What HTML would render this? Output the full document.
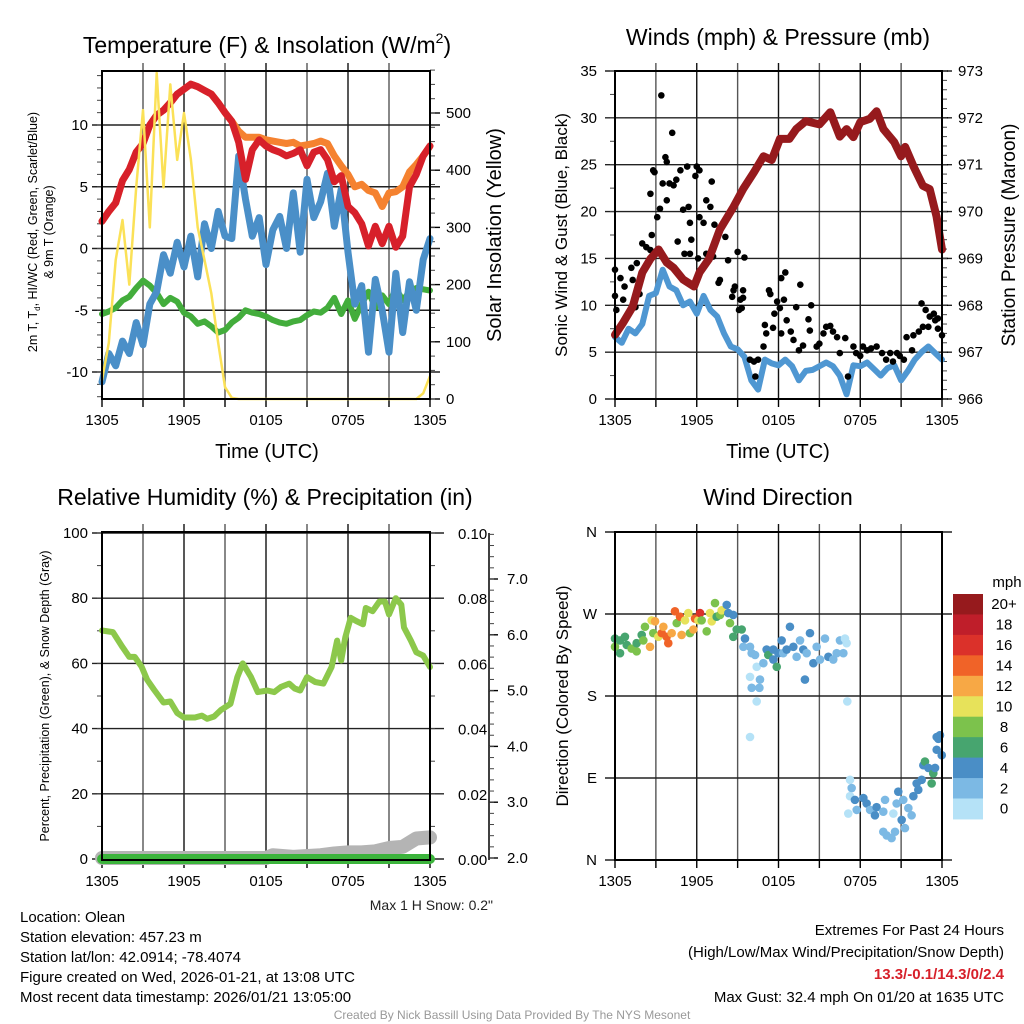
<!DOCTYPE html>
<html><head><meta charset="utf-8"><style>
html,body{margin:0;padding:0;background:#fff;}
svg{display:block;font-family:"Liberation Sans",Arial,sans-serif;}
</style></head><body>
<svg id="s" width="1024" height="1024" viewBox="0 0 1024 1024" xmlns="http://www.w3.org/2000/svg">
<g id="g"></g>
</svg>
<script>
// ===== Data =====
const xTickLabels = ["1305","1905","0105","0705","1305"];
const halfHours = [0,0.5,1,1.5,2,2.5,3,3.5,4,4.5,5,5.5,6,6.5,7,7.5,8,8.5,9,9.5,10,10.5,11,11.5,12,12.5,13,13.5,14,14.5,15,15.5,16,16.5,17,17.5,18,18.5,19,19.5,20,20.5,21,21.5,22,22.5,23,23.5,24];
const tempRed = [2.2,3,3.7,5.5,6.4,7.8,8.5,10,10.8,11.2,11.8,12.5,12.9,13.3,13.1,12.8,12.5,11.8,11,10.3,8.6,5.6,8,8.8,8.3,8,7.8,7.5,7.7,8,6.7,7.8,8,7.2,5.4,5.9,3.4,2.9,2,0.2,1.8,0.4,1.8,0.1,1,5,6,7.5,8.3];
const tempOrange = [2.2,3,3.7,5.5,6.4,7.8,8.5,10,10.8,11.2,11.8,12.5,12.9,13.3,13.1,12.8,12.5,11.8,11,10.3,9.5,9,9,9,8.8,8.7,8.6,8.5,8.6,8.3,8.4,8.5,8.7,8.5,7.5,6.7,6,5,5.2,4.7,4.5,3.4,4.5,4.6,5,6.2,6.8,7.5,8.3];
const tempBlue = [-10.8,-8.5,-9.5,-7.5,-8.5,-6,-7.8,-4.5,-3.5,-0.5,-2,0.5,-1.5,1,-2.3,2,0,3,1,0.8,7.5,4,1,2.5,-1.3,1.5,2.6,0,4.5,-0.3,5.6,2.5,3.8,6.1,1.8,4.8,-0.3,-4.5,-3,-8.4,-2.5,-5,-8.4,-2,-6.8,-2.7,-5,-0.9,0.8];
const tempGreen = [-5.3,-5.1,-4.8,-4.2,-3.9,-3.2,-2.6,-3,-3.6,-4.5,-4,-4.3,-5.2,-5.5,-6.1,-5.9,-6.3,-6.8,-6.6,-6,-5.6,-5,-5.2,-5.3,-5.5,-5.8,-6,-6.1,-5.9,-5.8,-5.4,-5.1,-5.2,-4.8,-4,-5.3,-4.2,-5.7,-4.5,-3.5,-4.8,-3.8,-4.5,-3.2,-4.2,-3.5,-3.2,-3.3,-3.4];
const solar = [33,98,243,313,200,370,505,300,570,370,550,418,500,420,300,243,185,98,21,2,0,0,0,0,0,0,0,0,0,0,0,0,0,0,0,0,0,0,0,0,0,0,0,0,0,0,0,10,40];
const tempTicks = [-10,-5,0,5,10];
const solarTicks = [0,100,200,300,400,500];

const sonicWind = [6.6,6,7.5,7,8,11,11.3,13.8,12,11.6,10,10.4,9.1,11,9.5,8.8,7,5.6,5.3,4.5,2,1,4.2,3.8,3.6,4.2,3.5,2,3,3.1,3.5,3.9,3.5,2.5,0.5,3.6,3.5,3.9,3.2,2.5,3.3,3.6,2,3,4.2,5,5.6,4.9,4.2];
const gustHours = [0,0,0.4,0.1,0.7,0.6,1.2,1.3,1.6,1.5,1.8,2,2.3,2.7,2.6,2.8,2.9,3.1,2.6,3.4,3.3,3.7,3.8,4.2,3.5,3.8,4,4.3,4.5,4.8,5.3,5,4.6,5.1,5.4,5.5,5.6,5.5,6,5.9,6.2,6.1,6.2,6.5,6.7,6.7,7,7.1,7.3,7.2,7.6,7.7,8.1,8.3,8.6,8.7,9,8.8,9.1,9.2,9.3,9.4,9.5,9.4,9.9,10.2,10.3,10.5,10.9,11,11.1,11.3,11.4,11.6,11.7,11.9,12.1,12.2,12.5,12.4,12.2,12.6,12.9,13.1,13.3,13.5,13.6,13.8,14.2,14.3,14.4,14.8,15,15.3,15.5,15.8,16,16.3,16.5,16.9,17.1,17.5,17.7,18,18.2,18.5,18.8,19.2,19.6,19.9,20.2,20.4,20.7,20.9,21.2,21.4,21.8,21.9,22.3,22.5,22.6,22.8,23,23.1,23.4,23.5,23.7,23.7,24];
const gustVals = [13.8,11,12.9,9.5,12,10.6,14,12.7,14.5,9.8,11.2,16.6,16.2,17.5,15.9,24.4,24.2,19.4,21.9,32.4,20.3,25.8,25.3,28.4,23,21.2,23,22.8,23.4,24.4,24.8,20.2,16.8,15.5,20.5,18.8,17,15.5,24.8,23.8,24.4,15,19.4,18.8,21.2,15.5,20.5,23.2,18.6,15.2,12.4,12.7,17.3,14.8,10.9,11.6,15.7,12,9.5,10.6,9.7,11.6,15.1,10.8,4.2,4,2.4,4.2,5.6,7.9,7,11.6,11.2,7.6,9.1,10.4,9.7,12.9,13.5,10.6,7,8.4,7.2,6.3,9.8,5.2,12.2,5.7,8.5,7.3,10,5.6,5.9,7,7.7,7.8,7.2,6.6,4.9,6.5,2.4,5.6,4.9,4.6,5.6,5.2,5.4,5.6,4.9,4.2,4.9,4,4.9,4.6,4.2,6.6,5.2,6.8,7.2,10.2,7.7,9.5,7.7,8.8,9.1,8.4,8.6,7.5,6.8];
const presHours = [0,0.6,1.3,2,2.6,3.2,3.8,4.3,5,5.8,6.2,6.9,7.7,8.7,9.4,10.2,10.9,11.5,12.1,12.8,13.3,14,15,15.8,16.5,17,17.5,18,18.7,19.2,19.7,20.5,21,21.3,21.9,22.6,23.1,23.6,24];
const presVals = [967.37,967.63,967.97,968.7,968.99,969.19,968.91,968.8,968.55,968.4,968.7,968.99,969.62,970.1,970.48,970.84,971.18,971.1,971.55,971.55,971.76,971.93,971.86,972.12,971.6,971.76,971.59,971.91,971.98,972.14,971.76,971.48,971.18,971.38,970.97,970.55,970.48,969.9,969.19];
const windTicks = [0,5,10,15,20,25,30,35];
const presTicks = [966,967,968,969,970,971,972,973];

const rhHours = [0,0.8,1.5,2,2.4,2.9,3.3,3.8,4.5,5,5.5,6,6.8,7.3,7.7,8.2,8.7,9.4,9.9,10.3,10.9,11.4,12.1,12.6,13.1,13.7,14.1,14.5,15,15.6,16.2,16.8,17.2,17.5,17.8,18.2,18.6,19.1,19.3,19.8,20.3,20.7,21,21.5,21.9,22.1,22.6,23,23.5,24];
const rhVals = [70.1,69.6,65,62,62,59,55,52,48,48.3,44.8,43.4,43.4,44,43,43.7,45.7,47.6,55.8,60,55.8,51.2,51.7,51.2,52.8,53.8,52.3,51.7,55.8,54.3,53.8,58.9,67,60.9,68,74,73,72,77,76,79,79,75,80,78,71,67,63.4,62.4,58.9];
const precipHours = [0,24];
const precipVals = [0,0];
const snowHours = [0,12,12.5,14,16,17,18,19,20,21,22,23,24];
const snowVals = [2.0,2.0,2.05,2.02,2.05,2.08,2.1,2.1,2.12,2.18,2.2,2.35,2.37];
const rhTicks = [0,20,40,60,80,100];
const precipTicks = ["0.00","0.02","0.04","0.06","0.08","0.10"];
const snowTicks = ["2.0","3.0","4.0","5.0","6.0","7.0"];

const dirHours = [0,0,0.37,0.37,0.73,0.86,1.22,1.59,1.59,1.96,2.2,2.08,2.57,2.69,2.94,2.81,3.18,3.43,3.55,3.79,3.91,4.16,4.4,4.53,4.77,4.89,5.14,5.38,5.5,5.75,5.87,6.12,6.24,6.36,6.73,6.97,7.1,7.34,7.46,7.71,7.83,8.2,8.32,8.44,8.68,8.68,8.93,9.3,9.54,9.42,9.91,10.03,10.28,10.4,9.91,10.03,10.6,10.4,10.64,10.89,11.13,11.25,11.62,11.62,11.87,11.99,12.23,12.35,12.6,12.84,13.09,13.33,13.58,13.82,13.94,14.07,14.31,14.56,14.8,15.05,15.41,15.66,16.02,16.27,16.51,16.76,16.88,17,17.05,9.91,17.25,17.37,17.25,17.12,17.61,17.74,18.23,18.47,18.72,19.08,19.2,19.69,19.82,19.69,19.94,20.3,20.43,20.55,20.67,20.79,21.04,21.16,21.28,21.53,21.77,21.9,22.14,22.26,22.51,22.63,22.75,23,23.24,23.36,23.49,23.61,23.61,23.85,23.98,23.73];
const dirDegs = [243,234,241,227,245,236,232,229,238,247,256,241,234,263,262,249,245,249,256,245,238,249,273,260,267,247,263,271,249,253,265,263,271,263,251,271,262,282,267,269,274,280,271,260,269,245,253,253,243,234,234,227,225,212,201,189,189,174,198,216,231,225,231,220,212,227,241,227,231,256,234,223,241,231,198,227,249,216,234,220,243,223,220,227,241,227,243,238,174,135,88,79,70,51,66,55,68,62,55,49,58,53,66,31,27,24,51,31,62,75,44,66,35,57,49,70,84,77,88,104,108,101,84,95,101,121,135,137,115,133];
const dirSpeeds = [6,8,6,6,6,6,8,8,6,6,8,8,12,10,12,8,10,14,12,14,14,12,14,8,14,12,10,10,8,12,14,10,16,8,8,10,10,8,6,8,10,4,4,8,4,6,6,6,4,2,2,2,2,0,0,2,2,0,2,2,4,6,4,4,6,4,4,2,4,4,4,2,2,4,4,2,4,4,2,2,2,4,2,2,2,2,0,0,0,0,0,2,0,0,4,2,4,4,2,4,4,2,2,2,2,2,0,2,2,4,4,2,2,2,2,4,4,4,4,4,6,4,6,6,4,4,4,4,4,4];
const dirTicks = ["N","E","S","W","N"];
const speedLabels = ["0","2","4","6","8","10","12","14","16","18","20+"];
const speedColors = ["#b5e2f7","#7cb9e4","#4a8ec6","#47a56f","#7cc24c","#e7e25a","#f7a845","#f06328","#db312a","#bf1e2a","#961a1d"];

// ===== Helpers =====
const NS="http://www.w3.org/2000/svg";
const root=document.getElementById('g');
function mk(tag, attrs, parent, text){
  const e=document.createElementNS(NS,tag);
  for(const k in attrs) e.setAttribute(k,attrs[k]);
  if(text!==undefined) e.textContent=text;
  (parent||root).appendChild(e);
  return e;
}
function lin(d0,d1,r0,r1){return v=>r0+(v-d0)*(r1-r0)/(d1-d0);}

function panel(name,L,T,R,B){
  const g=mk('g',{});
  
  
  const x=lin(0,24,L,R);
  for(let h=3;h<24;h+=3){
    const gl=mk('line',{x1:x(h),x2:x(h),y1:T-8,y2:B,stroke:(h%6===0?'#111':'#555'),'stroke-width':1.4},g);
    
    
  }
  for(let h=0;h<=24;h+=3){
    mk('line',{x1:x(h),x2:x(h),y1:B,y2:B+8,stroke:'#000','stroke-width':1.4},g);
  }
  xTickLabels.forEach((t,i)=>{
    const tl=mk('text',{x:x(i*6),y:B+26,'font-size':15,'text-anchor':'middle'},g,t);
    
    
  });
  return {g,x};
}
function hgrid(g,L,R,y,extend){
  mk('line',{x1:L-10,x2:R+(extend||10),y1:y,y2:y,stroke:'#222','stroke-width':1.4},g);
}
function frame(g,L,T,R,B){
  const f=mk('rect',{x:L,y:T,width:R-L,height:B-T,fill:'none',stroke:'#000','stroke-width':2},g);
  
  
}
function path(g,xs,ys,fx,fy,color,w,name){
  let d='';
  for(let i=0;i<xs.length;i++){
    if(ys[i]===null) continue;
    d+=(d?'L':'M')+fx(xs[i]).toFixed(1)+','+fy(ys[i]).toFixed(1);
  }
  const p=mk('path',{d:d,fill:'none',stroke:color,'stroke-width':w,'stroke-linejoin':'round','stroke-linecap':'round'},g);
  
  
  return p;
}
function minorTicks(g,xPos,y0,y1,n,dir){
  for(let i=0;i<=n;i++){const y=y0+(y1-y0)*i/n;mk('line',{x1:xPos,x2:xPos+dir*5,y1:y,y2:y,stroke:'#444','stroke-width':1},g);}
}

// ===== Panel 1: Temperature =====
(function(){
  const L=102,T=71,R=430,B=399;
  const {g,x}=panel('temperature-panel',L,T,R,B);
  const y=lin(-10,10,372,125);
  const ys=lin(0,500,399,113);
  tempTicks.forEach(v=>{
    hgrid(g,L,R,y(v),0);
    const t=mk('text',{x:L-14,y:y(v)+5,'font-size':15,'text-anchor':'end'},g,String(v));
    
    
  });
  minorTicks(g,L,y(-12),y(14),26,-1);
  solarTicks.forEach(v=>{
    mk('line',{x1:R,x2:R+10,y1:ys(v),y2:ys(v),stroke:'#000','stroke-width':1.4},g);
    const t=mk('text',{x:R+16,y:ys(v)+5,'font-size':15},g,String(v));
    
    
  });
  minorTicks(g,R,ys(0),ys(575),23,1);
  path(g,halfHours,tempGreen,x,y,'#43ad3c',6,'dewpoint-line');
  path(g,halfHours,tempBlue,x,y,'#4a8fc8',7,'windchill-line');
  path(g,halfHours,tempOrange,x,y,'#f58230',7,'temp-9m-line');
  path(g,halfHours,tempRed,x,y,'#d7202a',7,'temp-2m-line');
  path(g,halfHours,solar,x,ys,'#fbe157',2.5,'solar-line');
  frame(g,L,T,R,B);
  const tt=mk('text',{x:267,y:53,'font-size':23,'text-anchor':'middle'},g,'Temperature (F) & Insolation (W/m');
  mk('tspan',{'font-size':14,dy:-10},tt,'2');
  mk('tspan',{dy:10},tt,')');
   
  mk('text',{x:267,y:458,'font-size':20,'text-anchor':'middle'},g,'Time (UTC)');
  const yl=mk('text',{transform:'translate(37,232) rotate(-90)','font-size':12.5,'text-anchor':'middle'},g,'2m T, T');
  mk('tspan',{'font-size':8,dy:3},yl,'d'); mk('tspan',{dy:-3},yl,', HI/WC (Red, Green, Scarlet/Blue)');
   
  mk('text',{transform:'translate(53,232) rotate(-90)','font-size':12.5,'text-anchor':'middle'},g,'& 9m T (Orange)');
  const yr=mk('text',{transform:'translate(501,235) rotate(-90)','font-size':20,'text-anchor':'middle'},g,'Solar Insolation (Yellow)');
   
})();

// ===== Panel 2: Winds =====
(function(){
  const L=615,T=71,R=942,B=399;
  const {g,x}=panel('winds-panel',L,T,R,B);
  const y=lin(0,35,399,71);
  const yp=lin(966,973,399,71);
  windTicks.forEach(v=>{
    hgrid(g,L,R,y(v),0);
    const t=mk('text',{x:L-18,y:y(v)+5,'font-size':15,'text-anchor':'end'},g,String(v));
     
  });
  minorTicks(g,L,y(0),y(35),14,-1);
  presTicks.forEach(v=>{
    mk('line',{x1:R,x2:R+6,y1:yp(v),y2:yp(v),stroke:'#000','stroke-width':1.4},g);
    const t=mk('text',{x:R+16,y:yp(v)+5,'font-size':15},g,String(v));
     
  });
  minorTicks(g,R,yp(966),yp(973),35,1);
  path(g,halfHours,sonicWind,x,y,'#4f97d2',6,'sonic-wind-line');
  for(let i=0;i<gustHours.length;i++){
    const c=mk('circle',{cx:x(gustHours[i]),cy:y(gustVals[i]),r:3.3,fill:'#000'},g);
    
    
  }
  path(g,presHours,presVals,x,yp,'#961a1d',8,'pressure-line');
  frame(g,L,T,R,B);
  const t=mk('text',{x:778,y:45,'font-size':23,'text-anchor':'middle'},g,'Winds (mph) & Pressure (mb)');
   
  mk('text',{x:778,y:458,'font-size':20,'text-anchor':'middle'},g,'Time (UTC)');
  const a=mk('text',{transform:'translate(567,235) rotate(-90)','font-size':17,'text-anchor':'middle'},g,'Sonic Wind & Gust (Blue, Black)');
   
  const b=mk('text',{transform:'translate(1015,235) rotate(-90)','font-size':19,'text-anchor':'middle'},g,'Station Pressure (Maroon)');
   
})();

// ===== Panel 3: RH =====
(function(){
  const L=102,T=532,R=430,B=860;
  const {g,x}=panel('humidity-panel',L,T,R,B);
  const y=lin(0,100,859,533);
  const yPr=lin(0,0.1,859,533);
  const ySn=lin(2,7,858,579);
  rhTicks.forEach(v=>{
    hgrid(g,L,R,y(v),14);
    const t=mk('text',{x:L-14,y:y(v)+5,'font-size':15,'text-anchor':'end'},g,String(v));
     
  });
  minorTicks(g,L,y(0),y(100),10,-1);
  minorTicks(g,R,y(0),y(100),10,1);
  precipTicks.forEach(v=>{
    const t=mk('text',{x:R+28,y:yPr(parseFloat(v))+6,'font-size':15},g,v);
     
  });
  mk('line',{x1:489,x2:489,y1:533,y2:860,stroke:'#000','stroke-width':1.5},g);
  snowTicks.forEach(v=>{
    const yy=ySn(parseFloat(v));
    mk('line',{x1:489,x2:498,y1:yy,y2:yy,stroke:'#000','stroke-width':1.4},g);
    const t=mk('text',{x:507,y:yy+5,'font-size':15},g,v);
     
  });
  minorTicks(g,489,ySn(2),ySn(7.8),29,1);
  path(g,snowHours,snowVals,x,ySn,'#b4b4b4',14,'snow-depth-line');
  path(g,rhHours,rhVals,x,y,'#8cc84b',6,'rh-line');
  path(g,precipHours,precipVals,x,yPr,'#3cb43c',10,'precip-line');
  frame(g,L,T,R,B);
  const t=mk('text',{x:265,y:505,'font-size':23,'text-anchor':'middle'},g,'Relative Humidity (%) & Precipitation (in)');
   
  const yl=mk('text',{transform:'translate(49,696) rotate(-90)','font-size':12.5,'text-anchor':'middle'},g,'Percent, Precipitation (Green), & Snow Depth (Gray)');
   
  const ms=mk('text',{x:493,y:910,'font-size':14,'text-anchor':'end',fill:'#222'},g,'Max 1 H Snow: 0.2"');
   
})();

// ===== Panel 4: Wind Direction =====
(function(){
  const L=615,T=532,R=942,B=860;
  const {g,x}=panel('wind-direction-panel',L,T,R,B);
  const y=lin(0,360,860,532);
  dirTicks.forEach((lab,i)=>{
    const v=i*90;
    hgrid(g,L,R,y(v),10);
    const t=mk('text',{x:L-18,y:y(v)+5,'font-size':15,'text-anchor':'end'},g,lab);
     
  });
  for(let i=0;i<dirHours.length;i++){
    const ci=Math.min(10,Math.floor(dirSpeeds[i]/2));
    const c=mk('circle',{cx:x(dirHours[i]),cy:y(dirDegs[i]),r:4.3,fill:speedColors[ci]},g);
    
    
  }
  frame(g,L,T,R,B);
  const t=mk('text',{x:778,y:505,'font-size':23,'text-anchor':'middle'},g,'Wind Direction');
   
  const yl=mk('text',{transform:'translate(568,696) rotate(-90)','font-size':17,'text-anchor':'middle'},g,'Direction (Colored By Speed)');
   
  const cb=mk('g',{},g);
   
  const top=594, bh=20.45;
  for(let i=0;i<11;i++){
    const idx=10-i;
    const r=mk('rect',{x:953,y:top+i*bh,width:30,height:bh+0.5,fill:speedColors[idx]},cb);
     
    const tl=mk('text',{x:1004,y:top+i*bh+bh/2+5,'font-size':15,'text-anchor':'middle'},cb,speedLabels[idx]);
     
  }
  mk('text',{x:1007,y:587,'font-size':15,'text-anchor':'middle'},cb,'mph');
})();

// ===== Footer text =====
(function(){
  const info=["Location: Olean","Station elevation: 457.23 m","Station lat/lon: 42.0914; -78.4074","Figure created on Wed, 2026-01-21, at 13:08 UTC","Most recent data timestamp: 2026/01/21 13:05:00"];
  info.forEach((s,i)=>{
    const t=mk('text',{x:20,y:922+i*20,'font-size':15},root,s);
     
  });
  const r=[["Extremes For Past 24 Hours",935,'#000','normal'],["(High/Low/Max Wind/Precipitation/Snow Depth)",957,'#000','normal'],["13.3/-0.1/14.3/0/2.4",979,'#d7202a','bold'],["Max Gust: 32.4 mph On 01/20 at 1635 UTC",1002,'#000','normal']];
  r.forEach(a=>{
    const t=mk('text',{x:1004,y:a[1],'font-size':15,'text-anchor':'end',fill:a[2],'font-weight':a[3]},root,a[0]);
     
  });
  const c=mk('text',{x:512,y:1019,'font-size':12,'text-anchor':'middle',fill:'#999'},root,'Created By Nick Bassill Using Data Provided By The NYS Mesonet');
   
})();
</script>
</body></html>
